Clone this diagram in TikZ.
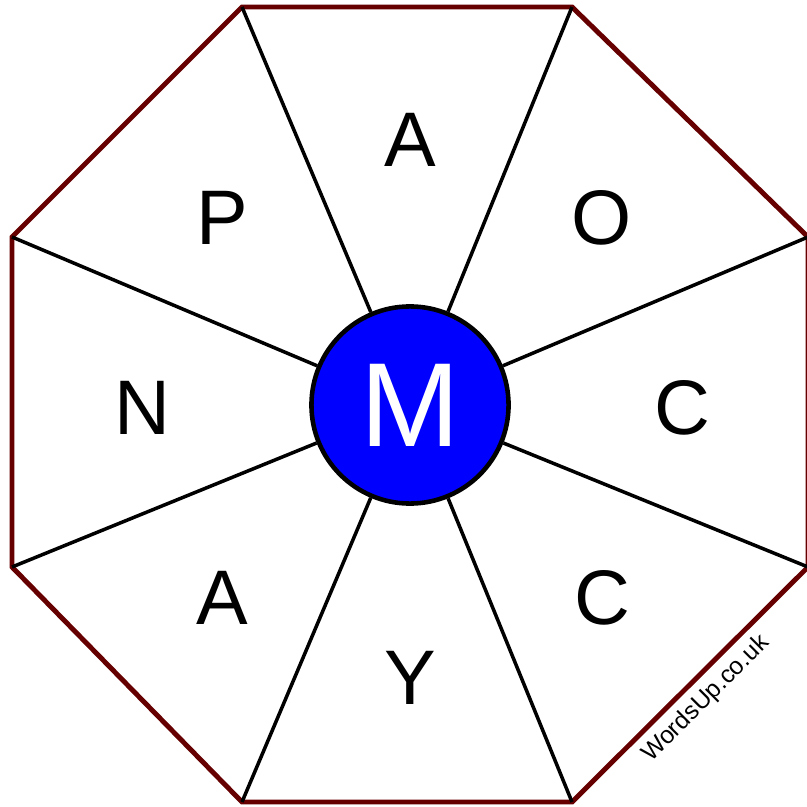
\documentclass[tikz,border=0pt]{standalone}
\usepackage{fontspec}
\setmainfont{Liberation Sans}
\usetikzlibrary{positioning,calc}

\begin{document}
\begin{tikzpicture}[
  x=0.01cm, y=-0.01cm,
  rim/.style={draw={rgb,255:red,102;green,0;blue,0}, line width=1.4pt, line join=miter},
  spoke/.style={draw=black, line width=1pt},
  hub/.style={circle, draw=black, line width=1.3pt, fill={rgb,255:red,0;green,0;blue,255},
    minimum size=1.97cm, inner sep=0pt, text=white, font=\fontsize{34}{34}\selectfont},
  letter/.style={font=\fontsize{22}{22}\selectfont, inner sep=0pt}
]
\useasboundingbox (0,0) rectangle (807,807);

% Octagon corners
\coordinate (v1) at (572,7);
\coordinate (v2) at (808,237);
\coordinate (v3) at (808,567);
\coordinate (v4) at (572,802);
\coordinate (v5) at (242,802);
\coordinate (v6) at (12,567);
\coordinate (v7) at (12,237);
\coordinate (v8) at (242,7);
\draw[rim] (v1) -- (v2) -- (v3) -- (v4) -- (v5) -- (v6) -- (v7) -- (v8) -- cycle;

% Centre letter
\node[hub] (m) at (410,405) {M};

\foreach \v in {1,...,8}{
  \draw[spoke] (m) -- (v\v);
}

% Outer letters
\node[letter] (ltop) at (410,140) {A};
\node[letter] (lne) at (602,218) {O};
\node[letter] (lright) at (682,408) {C};
\node[letter] (lse) at (602,598) {C};
\node[letter] (lbottom) at (410,678) {Y};
\node[letter] (lsw) at (222,598) {A};
\node[letter] (lleft) at (142,408) {N};
\node[letter] (lnw) at (222,218) {P};

\node[font=\fontsize{7}{7}\selectfont, rotate=45, inner sep=0pt] (brand) at (706,699) {WordsUp.co.uk};
\end{tikzpicture}
\end{document}
